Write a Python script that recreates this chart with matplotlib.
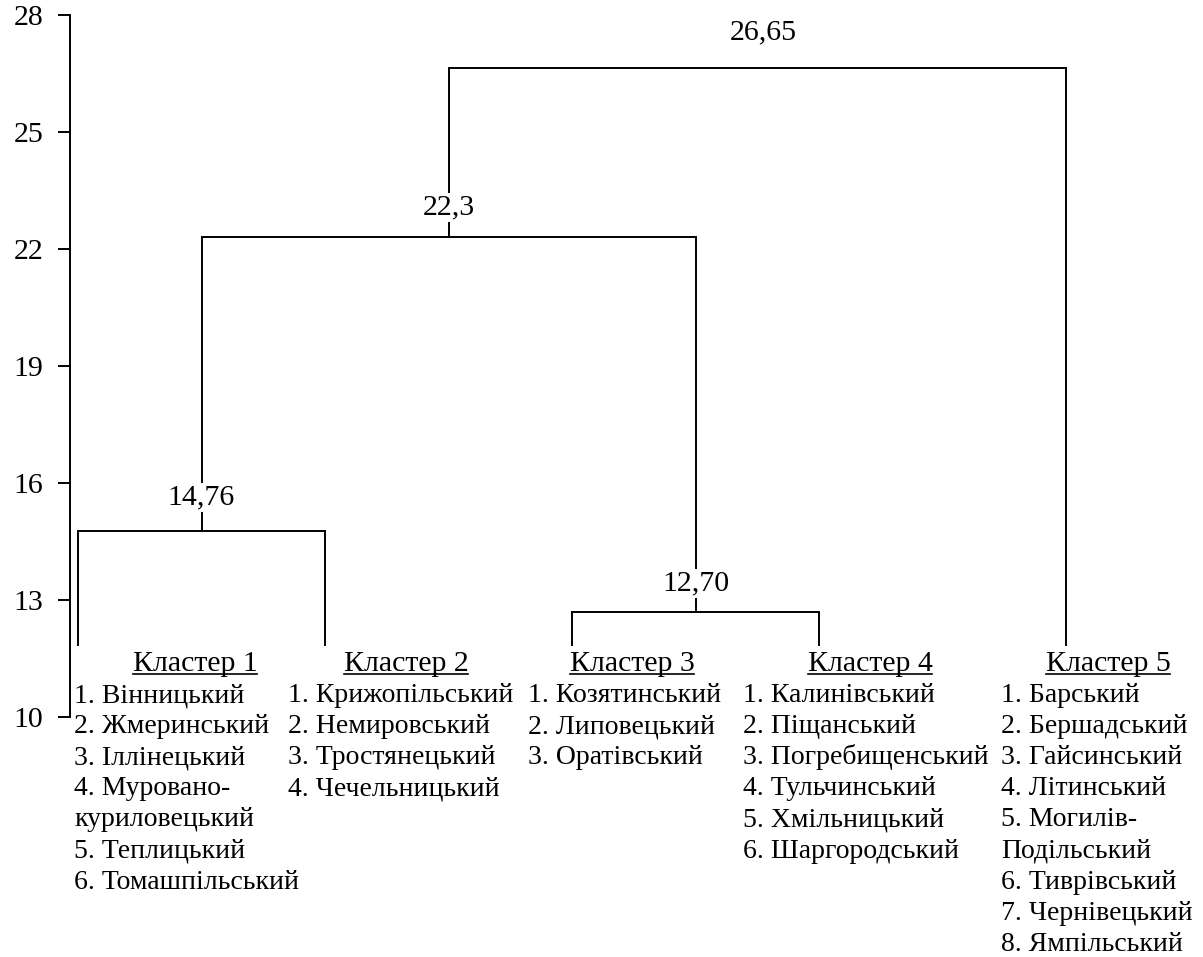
import matplotlib
matplotlib.use('Agg')
import matplotlib.pyplot as plt
from matplotlib.lines import Line2D

plt.rcParams['font.family'] = ['Liberation Serif', 'DejaVu Serif']
plt.rcParams['font.size'] = 21.5

# leaves (clusters) at x = 0..4, bottom of the leaf stems
leaf_base = 11.85
# merges: (left child, right child, height)
merge_heights = [14.76, 12.70, 22.3, 26.65]
merge_labels = ['14,76', '12,70', '22,3', '26,65']
merge_pairs = [('L0', 'L1'), ('L2', 'L3'), ('M0', 'M1'), ('M2', 'L4')]
# label offset above the merge line, in data units
label_offsets = [0.88, 0.72, 0.76, 0.90]
label_dx = [0, 0, 0, 0.024]

cluster_titles = ['Кластер 1', 'Кластер 2', 'Кластер 3', 'Кластер 4', 'Кластер 5']
cluster_items = [
    ['1. Вінницький', '2. Жмеринський', '3. Іллінецький', '4. Муровано-',
     'куриловецький', '5. Теплицький', '6. Томашпільський'],
    ['1. Крижопільський', '2. Немировський', '3. Тростянецький', '4. Чечельницький'],
    ['1. Козятинський', '2. Липовецький', '3. Оратівський'],
    ['1. Калинівський', '2. Піщанський', '3. Погребищенський', '4. Тульчинський',
     '5. Хмільницький', '6. Шаргородський'],
    ['1. Барський', '2. Бершадський', '3. Гайсинський', '4. Літинський', '5. Могилів-',
     'Подільський', '6. Тиврівський', '7. Чернівецький', '8. Ямпільський'],
]

# text block layout (pixels in the reference -> data units)
px_per_x = 247.0
title_px = [195, 406, 632, 870, 1108]
list_px = [74, 288, 528, 743, 1001]

fig = plt.figure(figsize=(12.03, 9.57), dpi=100)
ax = fig.add_axes([70 / 1203, 240 / 957, 1 - 70 / 1203, 702 / 957])
ax.set_xlim(-8 / px_per_x, (1203 - 78) / px_per_x)
ax.set_ylim(10, 28)

lc = 'black'
lw = 1.4

# build dendrogram
nodes = {}
for i in range(5):
    nodes['L%d' % i] = (float(i), leaf_base)

for k, (a, b) in enumerate(merge_pairs):
    h = merge_heights[k]
    xa, ya = nodes[a]
    xb, yb = nodes[b]
    ax.plot([xa, xa, xb, xb], [ya, h, h, yb], color=lc, lw=lw, solid_joinstyle='miter')
    xm = (xa + xb) / 2
    nodes['M%d' % k] = (xm, h)
    ax.text(xm + label_dx[k], h + label_offsets[k], merge_labels[k], ha='center', va='center',
            bbox=dict(facecolor='white', edgecolor='none', pad=1.0), zorder=3)

# axis styling
for s in ['top', 'right', 'bottom']:
    ax.spines[s].set_visible(False)
ax.spines['left'].set_linewidth(lw)
ax.set_xticks([])
ax.set_yticks(range(10, 29, 3))
ax.tick_params(axis='y', length=8.6, width=lw, pad=10.5, labelsize=21.5)

# cluster blocks
title_y_px = 671
first_y_px = 702
step_px = 31.1


def px_to_y(py):
    return 28 - (py - 15) / 39.0


titles = []
for i in range(5):
    tx = (title_px[i] - 78) / px_per_x
    t = ax.text(tx, px_to_y(title_y_px), cluster_titles[i], ha='center', va='baseline',
                clip_on=False)
    titles.append(t)
    lx = (list_px[i] - 78) / px_per_x
    for j, item in enumerate(cluster_items[i]):
        ax.text(lx, px_to_y(first_y_px + j * step_px), item, ha='left', va='baseline',
                fontsize=20, clip_on=False)

# underline the cluster titles
fig.canvas.draw()
renderer = fig.canvas.get_renderer()
inv = fig.transFigure.inverted()
for t in titles:
    bb = t.get_window_extent(renderer)
    base = t.get_transform().transform(t.get_position())[1]
    x0, y0 = inv.transform((bb.x0, base - 3))
    x1, _ = inv.transform((bb.x1, base - 3))
    fig.add_artist(Line2D([x0, x1], [y0, y0], color='black', lw=1.2))

fig.savefig('out.png', dpi=100)
